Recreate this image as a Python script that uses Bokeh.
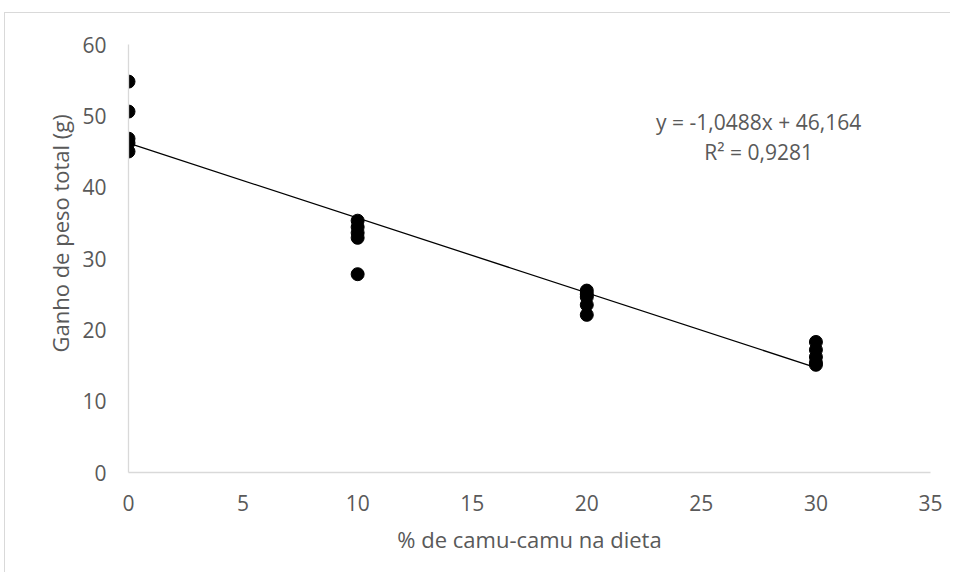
from bokeh.plotting import figure
from bokeh.models import Range1d, FixedTicker, ColumnDataSource, Title
from bokeh.core.properties import value
from bokeh.embed import file_html
from bokeh.resources import INLINE

# Data
camu_pct = [0, 0, 0, 0, 0,
            10, 10, 10, 10, 10,
            20, 20, 20, 20, 20,
            30, 30, 30, 30, 30]
ganho_peso = [54.8, 50.6, 46.8, 46.2, 45.0,
              35.3, 34.4, 33.6, 32.9, 27.8,
              25.5, 25.0, 24.6, 23.5, 22.1,
              18.3, 17.2, 16.2, 15.4, 15.1]
slope = -1.0488
intercept = 46.164
r2 = 0.9281
x_ticks = [0, 5, 10, 15, 20, 25, 30, 35]
y_ticks = [0, 10, 20, 30, 40, 50, 60]
x_title = "% de camu-camu na dieta"
y_title = "Ganho de peso total (g)"

FONT = "Open Sans"
GRAY = "#595959"
AXIS_GRAY = "#d9d9d9"

p = figure(frame_width=802, frame_height=428, output_backend="svg",
           toolbar_location=None, x_range=Range1d(0, 35), y_range=Range1d(0, 60),
           min_border_left=123, min_border_top=31, min_border_right=20,
           min_border_bottom=100)
p.styles = {"border-top": "1px solid #d9d9d9", "border-left": "1px solid #d9d9d9",
            "margin-top": "12px", "margin-left": "4px"}
p.outline_line_color = None
p.xgrid.visible = False
p.ygrid.visible = False

trend_x = [min(camu_pct), max(camu_pct)]
trend_y = [slope * v + intercept for v in trend_x]
p.line(trend_x, trend_y, line_color="black", line_width=1.3)

src = ColumnDataSource(dict(x=camu_pct, y=ganho_peso))
p.scatter("x", "y", source=src, size=13, fill_color="black", line_color="black")

eq1 = "y = " + f"{slope:.4f}".replace(".", ",") + "x + " + f"{intercept:.3f}".replace(".", ",")
eq2 = "R² = " + f"{r2:.4f}".replace(".", ",")
p.text(x=[27.5, 27.5], y=[49.2, 44.9], text=[eq1, eq2],
       text_font=value(FONT), text_font_size="21px", text_color=GRAY,
       text_align="center", text_baseline="middle")

for ax in (p.xaxis[0], p.yaxis[0]):
    ax.axis_line_color = AXIS_GRAY
    ax.axis_line_width = 1.3
    ax.major_tick_line_color = None
    ax.minor_tick_line_color = None
    ax.major_label_text_font = FONT
    ax.major_label_text_font_size = "21px"
    ax.major_label_text_color = GRAY
    ax.axis_label_text_font = FONT
    ax.axis_label_text_font_size = "22px"
    ax.axis_label_text_color = GRAY
    ax.axis_label_text_font_style = "normal"

p.xaxis.ticker = FixedTicker(ticks=x_ticks)
p.yaxis.ticker = FixedTicker(ticks=y_ticks)
p.xaxis.axis_label = x_title
p.xaxis.major_label_standoff = 16
p.yaxis.major_label_standoff = 16
p.xaxis.axis_label_standoff = 10

# y-axis title, placed a little above the frame centre as in the reference
ytitle = Title(text=y_title, align="left", offset=120, standoff=10,
               text_font=FONT, text_font_size="22px", text_color=GRAY,
               text_font_style="normal")
p.add_layout(ytitle, "left")

open("out.html", "w").write(file_html(p, INLINE))
